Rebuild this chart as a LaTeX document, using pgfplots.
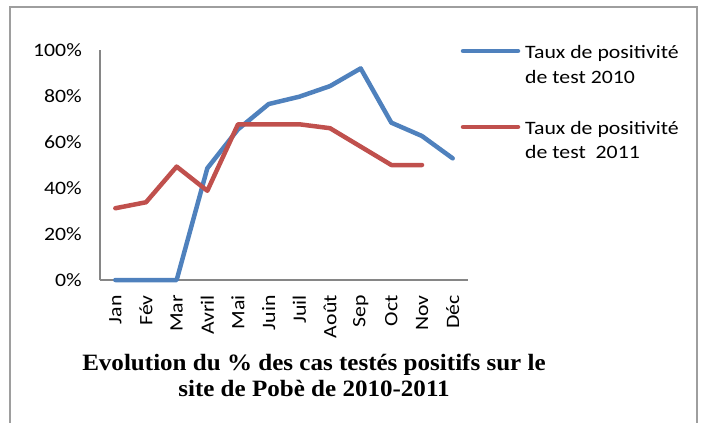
\documentclass[border=0pt]{standalone}
\usepackage{pgfplots}
\pgfplotsset{compat=1.18}
\usepackage{fontspec}
\setmainfont{Liberation Serif}
\newfontfamily\calfont{Carlito}[FakeStretch=1.15]
\newfontfamily\titlefont{Liberation Serif}[FakeStretch=1.07]
\definecolor{xblue}{HTML}{4F81BD}
\definecolor{xred}{HTML}{C0504D}
\definecolor{xgray}{HTML}{868686}
\pgfplotstableread{
x y
0 0
1 0
2 0
3 0.486
4 0.655
5 0.765
6 0.797
7 0.843
8 0.920
9 0.684
10 0.626
11 0.529
}\tabA
\pgfplotstableread{
x y
0 0.312
1 0.338
2 0.493
3 0.388
4 0.677
5 0.677
6 0.677
7 0.660
8 0.580
9 0.500
10 0.500
}\tabB
\begin{document}
\begin{tikzpicture}[x=1bp,y=1bp]
\path[use as bounding box] (0,0) rectangle (704,422);
\draw[color=black!38, line width=1.5bp] (10,-2) -- (10,415) -- (697,415) -- (697,-2);
\begin{axis}[
  at={(100bp,142bp)}, anchor=south west,
  width=368bp, height=230bp, scale only axis,
  xmin=-0.5, xmax=11.5, ymin=0, ymax=1,
  axis lines*=left,
  axis line style={xgray, line width=1.5bp},
  major tick length=0pt,
  xtick={0,...,11},
  xticklabels={Jan,Fév,Mar,Avril,Mai,Juin,Juil,Août,Sep,Oct,Nov,Déc},
  ytick={0,0.2,0.4,0.6,0.8,1},
  yticklabels={0\%,20\%,40\%,60\%,80\%,100\%},
  xticklabel style={font=\calfont\fontsize{19}{22}\selectfont, yshift=-15bp, rotate=90, anchor=east, inner sep=0pt},
  yticklabel style={font=\calfont\fontsize{19}{22}\selectfont, anchor=east, inner sep=0pt, xshift=-18bp},
  clip=false,
]
\addplot[xblue, line width=4.5bp, line cap=round, line join=round] table[x=x,y=y] {\tabA};
\addplot[xred, line width=4.5bp, line cap=round, line join=round] table[x=x,y=y] {\tabB};
\end{axis}
% legend
\draw[xblue, line width=4.5bp, line cap=round] (463,371) -- (518,371);
\draw[xred, line width=4.5bp, line cap=round] (463,295) -- (518,295);
\node[anchor=base west, inner sep=0pt, font=\calfont\fontsize{19}{22}\selectfont] at (525,364) {Taux de positivité};
\node[anchor=base west, inner sep=0pt, font=\calfont\fontsize{19}{22}\selectfont] at (525,339) {de test 2010};
\node[anchor=base west, inner sep=0pt, font=\calfont\fontsize{19}{22}\selectfont] at (525,288) {Taux de positivité};
\node[anchor=base west, inner sep=0pt, font=\calfont\fontsize{19}{22}\selectfont] at (525,264) {de test\ \ 2011};
% title
\node[anchor=base, inner sep=0pt, font=\titlefont\bfseries\fontsize{23.5}{26}\selectfont] at (314,52) {Evolution du \% des cas testés positifs sur le};
\node[anchor=base, inner sep=0pt, font=\titlefont\bfseries\fontsize{23.5}{26}\selectfont] at (314,26) {site de Pobè de 2010-2011};
\end{tikzpicture}
\end{document}
